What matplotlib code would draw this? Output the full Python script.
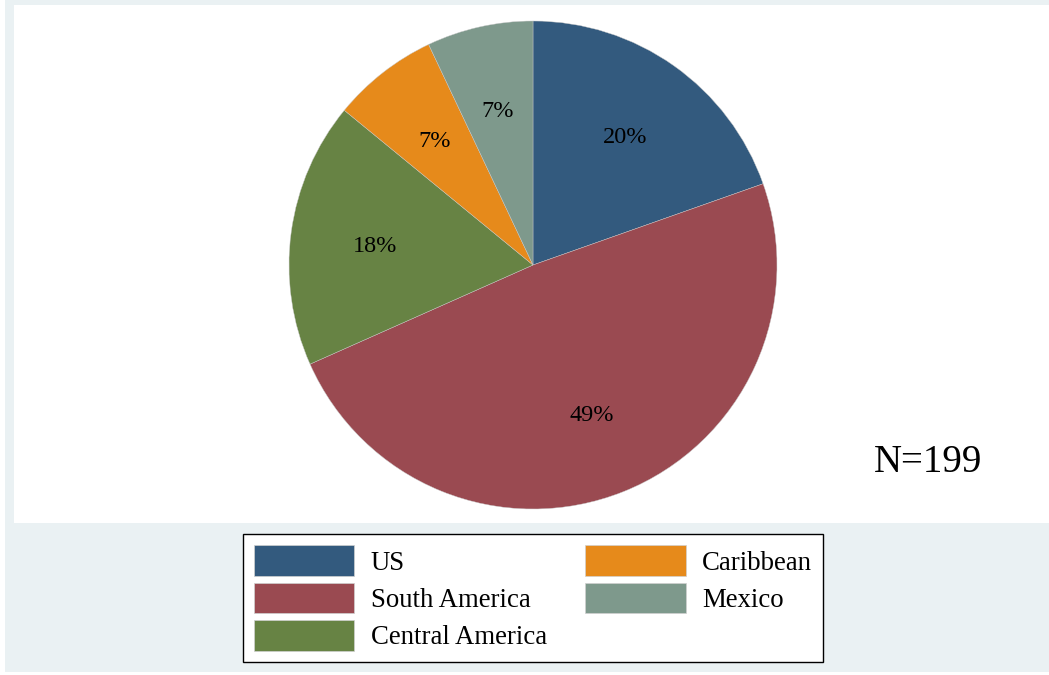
import matplotlib
matplotlib.use("Agg")
import matplotlib.pyplot as plt
from matplotlib.patches import Rectangle

regions = ["US", "South America", "Central America", "Caribbean", "Mexico"]
counts = [39, 97, 35, 14, 14]
colors = ["#335a7e", "#9a4a51", "#678344", "#e68a1b", "#7e998c"]
n_total = 199

plt.rcParams["font.family"] = ["Liberation Serif", "DejaVu Serif"]

W, H = 1049, 675
fig = plt.figure(figsize=(W / 100, H / 100), dpi=100, facecolor="white")

# outer light background and white plot region
fig.patches.append(Rectangle((5 / W, 3 / H), 1, 1, transform=fig.transFigure,
                             facecolor="#eaf1f3", edgecolor="none", zorder=-2))
fig.patches.append(Rectangle((14 / W, (H - 523) / H), 1, (523 - 5) / H,
                             transform=fig.transFigure, facecolor="white",
                             edgecolor="none", zorder=-1))

cx, cy, r = 533, 265, 244
ax = fig.add_axes([(cx - r) / W, (H - cy - r) / H, 2 * r / W, 2 * r / H])
ax.set_facecolor("none")

wedges, texts, autotexts = ax.pie(
    counts, colors=colors, startangle=90, counterclock=False,
    autopct="%1.0f%%", pctdistance=0.655,
    wedgeprops=dict(edgecolor="#c8c8c8", linewidth=0.3),
    textprops=dict(fontsize=17.5, color="black"),
)
for t in autotexts:
    t.set_verticalalignment("center_baseline")
ax.set_xlim(-1, 1)
ax.set_ylim(-1, 1)
ax.axis("off")

fig.text(874 / W, (H - 463) / H, "N=%d" % n_total, fontsize=28,
         ha="left", va="center")

leg = fig.legend(wedges, regions, ncol=2, loc="center",
                 bbox_to_anchor=(533 / W, (H - 598) / H),
                 fontsize=19.3, frameon=True, fancybox=False, framealpha=1,
                 handlelength=3.75, handleheight=1.4, handletextpad=0.6,
                 labelspacing=0.24, columnspacing=1.45, borderpad=0.4,
                 borderaxespad=0)
leg.get_frame().set_edgecolor("black")
leg.get_frame().set_facecolor("white")
leg.get_frame().set_linewidth(1.0)
for p in leg.get_patches():
    p.set_edgecolor("#d0d0d0")
    p.set_linewidth(0.5)

fig.savefig("out.png", dpi=100, facecolor="white")
